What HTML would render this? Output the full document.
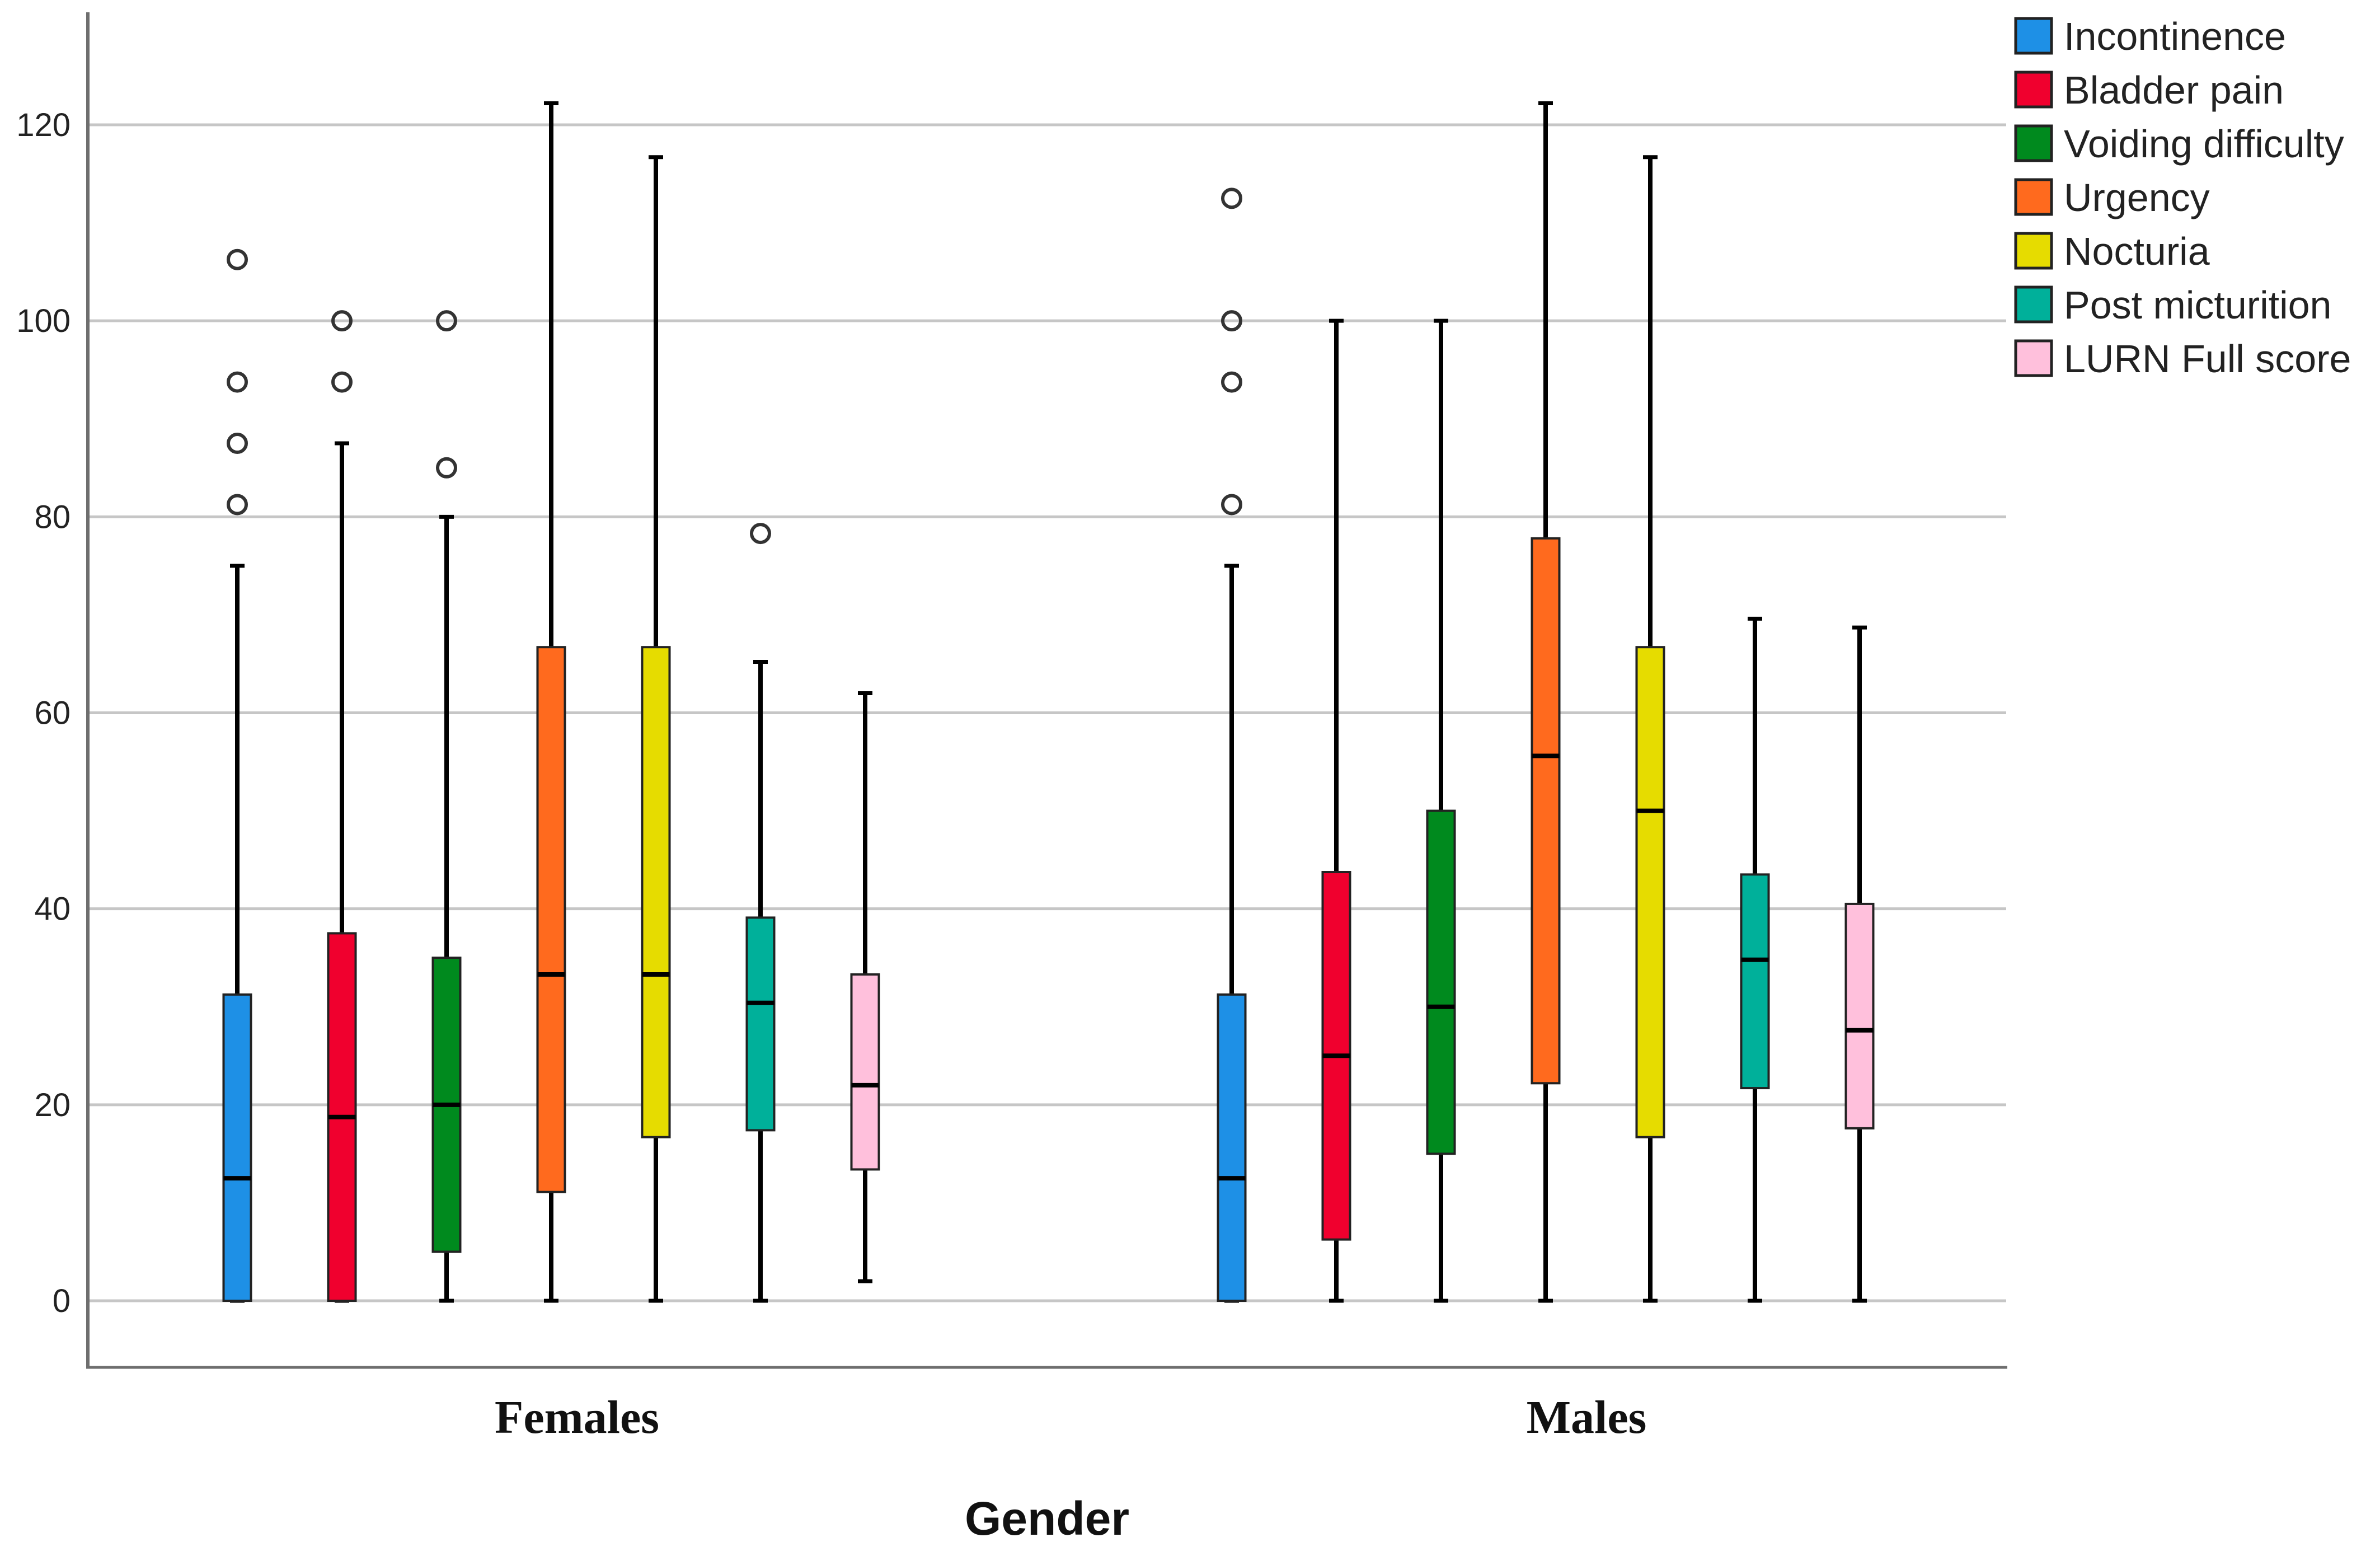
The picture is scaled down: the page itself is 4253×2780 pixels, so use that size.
<!DOCTYPE html>
<html><head><meta charset="utf-8"><style>
html,body{margin:0;padding:0;background:#fff;}
svg{display:block;}
</style></head><body>
<svg id="chart" width="4253" height="2780" viewBox="0 0 4253 2780" xmlns="http://www.w3.org/2000/svg">
<rect x="0" y="0" width="4253" height="2780" fill="#fff"/>
<g id="grid"></g>
<g id="yticks"></g>
<g id="boxes"></g>
<line x1="157" y1="22" x2="157" y2="2443" stroke="#6e6e6e" stroke-width="6"/>
<line x1="154" y1="2443" x2="3587" y2="2443" stroke="#6e6e6e" stroke-width="5"/>
<g id="xlabels"></g>
<text x="1871" y="2742" text-anchor="middle" font-family="Liberation Sans, sans-serif" font-weight="bold" font-size="84" fill="#111">Gender</text>
<g id="legend"></g>
</svg>
<script>
const categories = ["Females", "Males"];
const seriesNames = ["Incontinence","Bladder pain","Voiding difficulty","Urgency","Nocturia","Post micturition","LURN Full score"];
const seriesColors = ["#1e90e6","#f0002e","#008a1e","#ff6a1e","#e6dc00","#00b09a","#ffc0dc"];
const yTicks = [0,20,40,60,80,100,120];
// per category, per series: [min, q1, median, q3, max]
const femalesStats = [
 [0,0,12.5,31.25,75],
 [0,0,18.75,37.5,87.5],
 [0,5,20,35,80],
 [0,11.1,33.3,66.7,122.2],
 [0,16.7,33.3,66.7,116.7],
 [0,17.4,30.4,39.1,65.2],
 [2,13.4,22,33.3,62]
];
const malesStats = [
 [0,0,12.5,31.25,75],
 [0,6.25,25,43.75,100],
 [0,15,30,50,100],
 [0,22.2,55.6,77.8,122.2],
 [0,16.7,50,66.7,116.7],
 [0,21.7,34.8,43.5,69.6],
 [0,17.6,27.6,40.5,68.7]
];
const femalesOutliers = [[81.25,87.5,93.75,106.25],[93.75,100],[85,100],[],[],[78.3],[]];
const malesOutliers = [[81.25,93.75,100,112.5],[],[],[],[],[],[]];

const NS="http://www.w3.org/2000/svg";
function mk(tag, attrs, parent){const e=document.createElementNS(NS,tag);for(const k in attrs)e.setAttribute(k,attrs[k]);parent.appendChild(e);return e;}
const Y0=2324, Y120=223;
function yScale(v){return Y0-(v/120)*(Y0-Y120);}
const catCenter=[985,2762], step=187;
const labelOffset=[46,73];
function xScale(ci,si){return catCenter[ci]+(si-3)*step;}

const grid=document.getElementById('grid'), yt=document.getElementById('yticks');
yTicks.forEach(t=>{
 const l=mk('line',{x1:157,x2:3585,y1:yScale(t),y2:yScale(t),stroke:'#c6c6c6','stroke-width':5},grid);
 
 
 const tx=mk('text',{x:126,y:yScale(t)+20,'text-anchor':'end','font-family':'Liberation Sans, sans-serif','font-size':58,fill:'#222'},yt);
 tx.textContent=t;
 
 
});

const boxes=document.getElementById('boxes');
const W=49, cap=26;
[femalesStats,malesStats].forEach((stats,ci)=>{
 const outs=ci===0?femalesOutliers:malesOutliers;
 stats.forEach((s,si)=>{
  const x=xScale(ci,si);
  const g=mk('g',{},boxes);
  
  
  mk('line',{x1:x,x2:x,y1:yScale(s[4]),y2:yScale(s[0]),stroke:'#000','stroke-width':8},g);
  mk('line',{x1:x-cap/2,x2:x+cap/2,y1:yScale(s[4]),y2:yScale(s[4]),stroke:'#000','stroke-width':7},g);
  mk('line',{x1:x-cap/2,x2:x+cap/2,y1:yScale(s[0]),y2:yScale(s[0]),stroke:'#000','stroke-width':7},g);
  const h=Math.max(yScale(s[1])-yScale(s[3]),1);
  mk('rect',{x:x-W/2,y:yScale(s[3]),width:W,height:h,fill:seriesColors[si],stroke:'#222','stroke-width':4},g);
  mk('line',{x1:x-W/2,x2:x+W/2,y1:yScale(s[2]),y2:yScale(s[2]),stroke:'#000','stroke-width':8},g);
  outs[si].forEach(o=>{
   const c=mk('circle',{cx:x,cy:yScale(o),r:16,fill:'none',stroke:'#333','stroke-width':6},g);
   
   
  });
 });
});

const xl=document.getElementById('xlabels');
categories.forEach((c,ci)=>{
 const t=mk('text',{x:catCenter[ci]+labelOffset[ci],y:2560,'text-anchor':'middle','font-family':'Liberation Serif, serif','font-weight':'bold','font-size':84,fill:'#111'},xl);
 t.textContent=c;
 
 
});

const lg=document.getElementById('legend');
seriesNames.forEach((n,i)=>{
 const y=33+i*96;
 const g=mk('g',{},lg);
 
 
 mk('rect',{x:3602,y:y,width:64,height:62,fill:seriesColors[i],stroke:'#222','stroke-width':5},g);
 const t=mk('text',{x:3688,y:y+56,'font-family':'Liberation Sans, sans-serif','font-size':70,fill:'#222'},g);
 t.textContent=n;
});
</script>
</body></html>
